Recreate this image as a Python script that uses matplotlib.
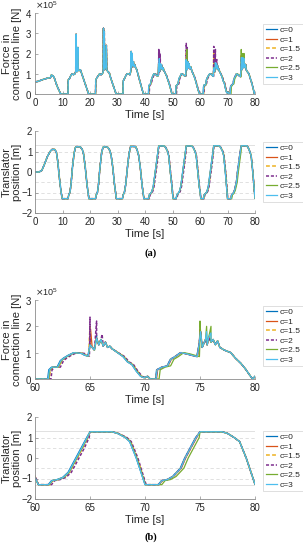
import matplotlib
matplotlib.use('Agg')
import matplotlib.pyplot as plt
from matplotlib.ticker import ScalarFormatter
import numpy as np

plt.rcParams['font.family'] = ['Liberation Sans', 'DejaVu Sans']

## series labels and MATLAB default colours
labels = ['c=0', 'c=1', 'c=1.5', 'c=2', 'c=2.5', 'c=3']
colors = ['#0072BD', '#D95319', '#EDB120', '#7E2F8E', '#77AC30', '#4DBEEE']
styles = ['-', '-', (0, (2.5, 1.5)), (0, (2, 1.2)), '-', '-']

## common translator position (m)
pos_t = [0, 1.5, 2.5, 3.5, 4.5, 5.5, 6.2, 7.2, 7.8, 8.3, 8.8, 9.4, 9.9,
         12.0, 12.3, 12.7, 13.1, 13.6, 14.2, 14.7, 15.2, 16.5, 17.2, 17.7, 18.3, 18.9, 19.6,
         22.0, 22.3, 22.7, 23.1, 23.6, 24.2, 24.7, 25.2, 26.5, 27.2, 27.7, 28.3, 28.9, 29.6,
         31.8, 32.1, 32.5, 33.0, 33.6, 34.2, 34.8, 36.6, 37.2, 37.7, 38.3, 38.9, 39.6,
         41.3, 41.6, 42.0, 42.5, 43.0, 43.7, 44.2, 44.7, 45.0, 47.0, 47.5, 48.2, 48.6, 49.2, 49.7, 50.2,
         51.3, 51.6, 52.0, 52.5, 53.0, 53.7, 54.2, 54.7, 55.0, 57.0, 57.5, 58.2, 58.6, 59.2, 59.7, 60.0, 60.3,
         61.2, 61.5, 62.0, 62.5, 63.0, 63.7, 64.2, 64.7, 65.0, 67.0, 67.5, 68.2, 68.6, 69.2, 70.0,
         71.2, 71.5, 72.0, 72.5, 73.2, 73.6, 74.1, 74.6, 75.0, 77.0, 77.5, 78.1, 78.6, 79.2, 80.0]
pos_v = [0, 0, 0.08, 0.4, 0.75, 1.0, 1.1, 1.1, 0.95, 0.5, -0.2, -0.9, -1.3,
         -1.3, -1.1, -1.0, -0.6, 0.2, 0.9, 1.2, 1.24, 1.22, 1.1, 0.85, 0.2, -0.6, -1.3,
         -1.3, -1.1, -1.0, -0.6, 0.2, 0.9, 1.2, 1.24, 1.2, 1.05, 0.8, 0.2, -0.6, -1.3,
         -1.3, -1.1, -1.0, -0.6, 0.2, 0.9, 1.25, 1.24, 1.05, 0.8, 0.2, -0.6, -1.3,
         -1.3, -1.1, -1.05, -0.95, -0.7, 0, 0.5, 1.0, 1.27, 1.27, 1.2, 1.0, 0.8, 0, -0.6, -1.3,
         -1.3, -1.1, -1.05, -0.95, -0.7, 0, 0.5, 1.0, 1.27, 1.27, 1.2, 1.0, 0.8, 0, -0.7, -0.95, -1.3,
         -1.3, -1.1, -1.05, -0.95, -0.7, 0, 0.5, 1.0, 1.28, 1.28, 1.2, 1.0, 0.8, 0, -1.3,
         -1.3, -1.1, -1.05, -0.9, -0.5, 0, 0.5, 1.0, 1.28, 1.28, 1.2, 1.0, 0.8, 0, -1.28]

## common force in connection line (x1e5 N)
force_t = [0, 1, 2, 3, 4, 5, 5.6, 6.0, 6.3, 6.6, 7.0, 7.5, 8.0, 8.5, 9.0, 9.4,
           12.0, 12.1, 12.5, 13.0, 13.5, 14.0, 14.5, 14.8, 14.95, 15.1, 15.3, 15.6, 15.75, 16.0, 16.5,
           17.0, 17.5, 18.0, 18.5, 19.0, 19.5,
           22.0, 22.1, 22.5, 23.0, 23.5, 24.0, 24.5, 24.8, 24.9, 25.05, 25.2, 25.35, 25.8, 25.95, 26.1,
           26.5, 27.0, 27.5, 28.0, 28.5, 29.0, 29.5,
           32.0, 32.1, 32.5, 33.0, 33.5, 34.0, 34.5, 34.8, 34.95, 35.1, 35.3, 35.45, 35.8, 36.0, 36.3,
           36.6, 37.0, 37.5, 38.0, 38.5, 39.0, 39.5,
           41.25, 41.35, 41.6, 42.0, 42.3, 42.7, 43.2, 43.8, 44.3, 44.8, 44.95, 45.1, 45.3, 45.6, 45.8,
           46.0, 46.3, 46.6, 46.9, 47.3, 47.8, 48.3, 48.8, 49.3, 49.7, 50.0,
           51.15, 51.25, 51.6, 52.0, 52.3, 52.7, 53.2, 53.8, 54.3, 54.8, 54.95, 55.1, 55.3, 55.6, 55.8,
           56.0, 56.3, 56.6, 56.9, 57.3, 57.8, 58.3, 58.8, 59.3, 59.7, 60.0,
           61.15, 61.25, 61.5, 62.0, 62.3, 62.6, 63.0, 63.5, 64.2, 64.5, 64.8, 65.0, 65.2, 65.4, 65.6,
           65.8, 66.0, 66.2, 66.4, 66.6, 66.8, 67.0, 67.5, 68.0, 68.4, 68.8, 69.2, 69.6, 69.9, 70.2, 70.5,
           70.95, 71.05, 71.5, 72.0, 72.3, 72.7, 73.2, 73.8, 74.2, 74.7, 74.9, 75.05, 75.2, 75.5, 75.65,
           75.8, 76.0, 76.2, 76.4, 76.6, 76.8, 77.2, 77.8, 78.2, 78.7, 79.1, 79.6, 79.8, 80.0]
force_v = [0.6, 0.62, 0.67, 0.72, 0.76, 0.8, 0.8, 0.95, 0.88, 0.9, 0.8, 0.6, 0.4, 0.25, 0.1, 0.0,
           0.0, 0.7, 0.75, 0.9, 1.0, 0.95, 1.0, 1.1, 2.95, 1.2, 1.1, 2.3, 1.2, 1.15, 1.2,
           1.0, 0.8, 0.6, 0.4, 0.2, 0.0,
           0.0, 0.7, 0.8, 0.9, 1.0, 0.95, 1.0, 1.1, 3.25, 1.3, 3.1, 1.2, 1.4, 2.4, 1.2,
           1.1, 1.05, 0.8, 0.6, 0.4, 0.2, 0.0,
           0.0, 0.65, 0.75, 0.9, 1.0, 1.0, 0.95, 1.1, 2.1, 1.3, 2.0, 1.4, 1.6, 1.35, 1.45,
           1.3, 1.2, 0.95, 0.7, 0.45, 0.2, 0.0,
           0.0, 0.4, 0.45, 0.5, 0.7, 0.85, 1.0, 0.97, 0.9, 0.9, 1.5, 1.2, 1.1, 1.5, 1.25,
           1.45, 1.2, 1.3, 1.15, 1.05, 0.9, 0.7, 0.5, 0.25, 0.05, 0.0,
           0.0, 0.4, 0.45, 0.5, 0.75, 0.85, 1.0, 0.97, 0.9, 0.9, 1.7, 1.3, 1.2, 1.6, 1.3,
           1.5, 1.25, 1.35, 1.2, 1.05, 0.9, 0.7, 0.45, 0.2, 0.05, 0.0,
           0.0, 0.35, 0.45, 0.45, 0.7, 0.8, 0.9, 1.0, 0.97, 0.9, 0.87, 1.3, 1.2, 1.1, 1.55,
           1.3, 1.5, 1.25, 1.4, 1.2, 1.25, 1.15, 1.0, 0.85, 0.65, 0.55, 0.3, 0.1, 0.05, 0.1, 0.0,
           0.0, 0.35, 0.45, 0.5, 0.75, 0.85, 1.0, 0.95, 0.9, 0.85, 1.3, 1.8, 1.2, 1.5, 1.3,
           1.6, 1.4, 1.5, 1.3, 1.45, 1.2, 1.1, 1.0, 0.8, 0.6, 0.4, 0.1, 0.0, 0.1]

## per cycle (0-10, 10-20, ... 70-80) lag of each series behind c=0 [s]
rise_delay = {'c=0': [0, 0, 0, 0, 0, 0, 0, 0],
              'c=1': [0, 0, 0, 0, 0.05, 0.05, 0.1, 0.1],
              'c=1.5': [0, 0, 0, 0, 0.1, 0.1, 0.15, 0.05],
              'c=2': [0, 0, 0, 0, 0.3, 0.3, 0.3, 0.05],
              'c=2.5': [0, 0, 0, 0, 0.05, 0.05, 0.1, 0.33],
              'c=3': [0, 0, 0, 0, 0, 0, 0.05, 0.05]}
fall_delay = {'c=0': [0, 0, 0, 0, 0, 0, 0, 0],
              'c=1': [0, 0, 0, 0, 0, 0.05, 0.05, 0],
              'c=1.5': [0, 0, 0, 0, 0.05, 0.05, 0.1, 0],
              'c=2': [0, 0, 0, 0, 0.1, 0.1, 0.15, 0],
              'c=2.5': [0, 0, 0, 0, 0, 0, 0.05, 0],
              'c=3': [0, 0, 0, 0, 0, 0, 0, 0]}

## extra force peaks of single series (t [s], F [x1e5 N])
spikes = {'c=0': [(65.6, 1.65)],
          'c=1': [(65.05, 1.9), (75.0, 1.9)],
          'c=1.5': [(55.0, 2.0), (65.0, 2.0)],
          'c=2': [(45.0, 2.2), (45.2, 2.1), (45.5, 2.0), (55.0, 2.5), (55.3, 2.3),
                  (65.0, 2.35), (65.6, 2.2), (66.1, 1.7)],
          'c=2.5': [(55.2, 2.2), (75.0, 2.2), (75.6, 2.0), (76.0, 2.0)],
          'c=3': [(45.2, 1.75), (75.6, 1.8), (76.0, 1.75)]}


def lagged_time(t, lab):
    t = np.asarray(t, dtype=float)
    shift = np.zeros_like(t)
    for k in range(8):
        s = 10 * k
        d = rise_delay[lab][k]
        shift += np.interp(t, [s + 0.5, s + 0.8, s + 4.6, s + 5.0], [0, d, d, 0], left=0, right=0)
        d = fall_delay[lab][k]
        shift += np.interp(t, [s + 7.0, s + 8.0, s + 9.8, s + 10.4], [0, d, d, 0], left=0, right=0)
    return t + shift


def series(lab):
    pt = lagged_time(pos_t, lab)
    ft = lagged_time(force_t, lab)
    fv = np.array(force_v)
    for (ts, fs) in spikes[lab]:
        i = np.searchsorted(ft, ts)
        ft = np.insert(ft, i, ts)
        fv = np.insert(fv, i, fs)
    return pt, np.array(pos_v), ft, fv * 1e5


fig = plt.figure(figsize=(3.03, 5.5), dpi=100)
W, H = 303.0, 550.0
boxes = [(13, 94), (131, 213), (300, 379), (417, 499)]
axs = [fig.add_axes([35 / W, 1 - b / H, 220 / W, (b - t) / H]) for (t, b) in boxes]

data = {lab: series(lab) for lab in labels}

for i, ax in enumerate(axs):
    is_force = i in (0, 2)
    if not is_force:
        for y in (1.3, -1.3):
            ax.axhline(y, color='#dcdcdc', lw=0.6, zorder=0)
        for y in (1, 0.5, -0.5, -1):
            ax.axhline(y, color='#dcdcdc', lw=0.6, ls=(0, (4, 3)), zorder=0)
    for lab, c, st in zip(labels, colors, styles):
        pt, pv, ft, fv = data[lab]
        lw = 1.1 if isinstance(st, tuple) else 0.9
        if is_force:
            ax.plot(ft, fv, color=c, ls=st, lw=lw, label=lab)
        else:
            ax.plot(pt, pv, color=c, ls=st, lw=lw, label=lab)

    if i < 2:
        ax.set_xlim(0, 80)
        ax.set_xticks(range(0, 81, 10))
    else:
        ax.set_xlim(60, 80)
        ax.set_xticks(range(60, 81, 5))
    if is_force:
        top = 4e5 if i == 0 else 3e5
        ax.set_ylim(0, top)
        ax.set_yticks(np.arange(0, top + 1, 1e5))
        fmt = ScalarFormatter(useMathText=True)
        fmt.set_powerlimits((0, 0))
        ax.yaxis.set_major_formatter(fmt)
        ax.yaxis.get_offset_text().set_fontsize(6.5)
        ax.yaxis.get_offset_text().set_color('#404040')
        ax.set_ylabel('Force in\nconnection line [N]', fontsize=8, color='#262626',
                      linespacing=1.0)
    else:
        ax.set_ylim(-2, 2)
        ax.set_yticks([-2, -1, 0, 1, 2])
        ax.set_ylabel('Translator\nposition [m]', fontsize=8, color='#262626',
                      linespacing=1.0)
    ax.yaxis.set_label_coords(-13 / 220, 0.5)
    ax.set_xlabel('Time [s]', fontsize=8, color='#262626', labelpad=1)
    for sp in ('top', 'right'):
        ax.spines[sp].set_visible(False)
    for sp in ('left', 'bottom'):
        ax.spines[sp].set_color('#8c8c8c')
        ax.spines[sp].set_linewidth(0.6)
    ax.tick_params(direction='in', length=2, width=0.5, labelsize=7, colors='#8c8c8c',
                   labelcolor='#262626', pad=2)
    ax.tick_params(axis='x', pad=3)
    ax.set_facecolor('none')

    leg_top = {0: 24, 1: 142, 2: 306, 3: 431}[i]
    leg = ax.legend(loc='upper left', bbox_to_anchor=(263 / W, 1 - leg_top / H),
                    bbox_transform=fig.transFigure, fontsize=6, frameon=True, fancybox=False,
                    handlelength=1.4, handletextpad=0.25, labelspacing=0.2, borderpad=0.3,
                    borderaxespad=0)
    leg.get_frame().set_edgecolor('#d0d0d0')
    leg.get_frame().set_linewidth(0.6)
    for tx in leg.get_texts():
        tx.set_color('#262626')

fig.text(151 / W, 1 - 253 / H, '(a)', ha='center', va='center', fontsize=7.5,
         fontweight='bold', family=['Liberation Serif', 'DejaVu Serif'])
fig.text(151 / W, 1 - 537 / H, '(b)', ha='center', va='center', fontsize=7.5,
         fontweight='bold', family=['Liberation Serif', 'DejaVu Serif'])

fig.savefig('out.png', dpi=100)
